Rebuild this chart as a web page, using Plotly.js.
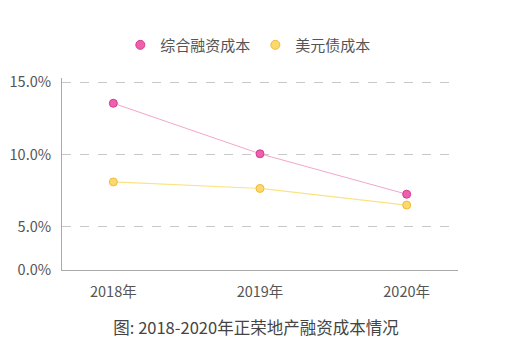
<!DOCTYPE html>
<html><head><meta charset="utf-8">
<script src="https://cdn.plot.ly/plotly-3.0.1.min.js"></script>
<style>html,body{margin:0;padding:0;background:#fff}#c{width:512px;height:355px}</style>
</head><body><div id="c"></div>
<script>
const years = ["2018年", "2019年", "2020年"];
const compositeCost = [13.55, 10.05, 7.25];
const usdBondCost = [8.1, 7.65, 6.5];
const seriesNames = ["综合融资成本", "美元债成本"];
const tickVals = [2.0, 5, 10, 15];
const tickText = ["0.0%", "5.0%", "10.0%", "15.0%"];

const font = "'Noto Sans CJK SC', 'Noto Sans', sans-serif";
const styles = [
  {line: {color: "#f2a6cb", width: 1}, marker: {size: 8, color: "#ef5fae", line: {color: "#d23d8f", width: 1}}},
  {line: {color: "#fbe383", width: 1.2}, marker: {size: 8, color: "#fdd96a", line: {color: "#f0b93a", width: 1}}}
];
const values = [compositeCost, usdBondCost];
const traces = [];
values.forEach((v, i) => {
  traces.push({x: years, y: v, name: seriesNames[i], type: "scatter", mode: "lines+markers",
    line: styles[i].line, marker: styles[i].marker, showlegend: false});
});
// legend entries showing only the marker symbol
values.forEach((v, i) => {
  traces.push({x: [null], y: [null], name: seriesNames[i], type: "scatter", mode: "markers",
    marker: {size: 9, color: styles[i].marker.color, line: styles[i].marker.line}, showlegend: true});
});
const layout = {
  width: 512, height: 355,
  margin: {l: 62, r: 54, t: 78, b: 85},
  paper_bgcolor: "#fff", plot_bgcolor: "#fff",
  font: {family: font, size: 14, color: "#555"},
  showlegend: true,
  legend: {orientation: "h", xref: "container", yref: "container", x: 0.485, xanchor: "center",
           y: 0.873, yanchor: "middle", font: {size: 15, color: "#555"}},
  title: {text: "图: 2018-2020年正荣地产融资成本情况", xref: "container", yref: "container",
          x: 0.5, xanchor: "center", y: 0.076, yanchor: "middle",
          font: {family: font, size: 16.5, color: "#444"}},
  xaxis: {type: "category", range: [-0.35, 2.35], showgrid: false, zeroline: false,
          showline: true, linecolor: "#aaa", linewidth: 1, ticks: "", ticklen: 0,
          ticklabelstandoff: 9,
          tickfont: {size: 14.5, color: "#555"}, fixedrange: true},
  yaxis: {range: [2.0, 15.3], tickvals: tickVals, ticktext: tickText, showgrid: true,
          gridcolor: "#c8c8c8", griddash: "dash", gridwidth: 1, zeroline: false,
          showline: true, linecolor: "#aaa", linewidth: 1, ticks: "",
          ticklabelstandoff: 7,
          tickfont: {size: 14.5, color: "#555"}, fixedrange: true}
};
Plotly.newPlot("c", traces, layout, {displayModeBar: false, staticPlot: true});
</script></body></html>
